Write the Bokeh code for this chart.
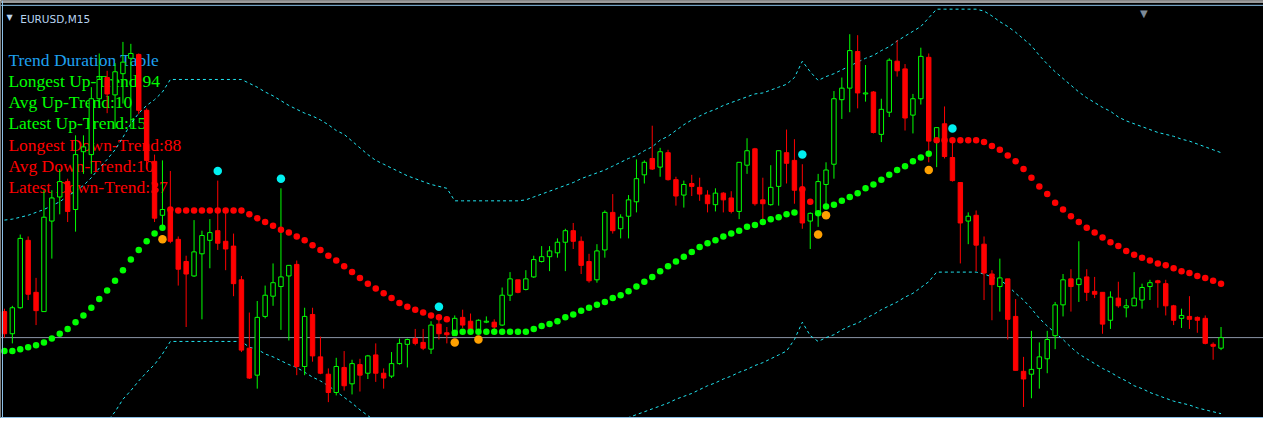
from bokeh.plotting import figure
from bokeh.models import ColumnDataSource, Range1d, Label, Span, BoxAnnotation
from bokeh.embed import file_html
from bokeh.resources import INLINE
import numpy as np

# EURUSD M15 — prices expressed in points above 1.09000 (1 point = 0.00001)
symbol = "EURUSD,M15"

open_pts = [677, 654, 681, 751, 697, 677, 771, 796, 812, 783,
            843, 840, 898, 920, 902, 924, 940, 944, 886, 833,
            777, 783, 752, 729, 714, 737, 751, 761, 750, 745,
            710, 639, 611, 672, 693, 703, 714, 726, 620, 674,
            630, 612, 593, 619, 602, 622, 613, 632, 613, 610,
            623, 643, 649, 645, 638, 664, 655, 652, 671, 667,
            658, 666, 666, 663, 694, 710, 700, 713, 729, 734,
            738, 749, 761, 750, 729, 710, 741, 780, 763, 776,
            791, 819, 836, 827, 842, 814, 798, 810, 806, 798,
            788, 800, 795, 781, 829, 846, 793, 788, 807, 842,
            834, 805, 771, 780, 809, 830, 897, 909, 947, 903,
            905, 861, 884, 937, 929, 881, 898, 941, 853, 872,
            837, 811, 771, 777, 747, 716, 703, 711, 672, 615,
            612, 618, 628, 652, 684, 711, 705, 713, 698, 697,
            668, 691, 681, 683, 689, 703, 709, 706, 683, 670,
            672, 671, 670, 643, 639]

high_pts = [680, 683, 757, 755, 712, 803, 803, 825, 815, 860,
            860, 910, 945, 927, 935, 957, 955, 945, 888, 840,
            834, 823, 755, 735, 772, 761, 773, 813, 780, 758,
            714, 676, 688, 704, 727, 805, 725, 730, 681, 681,
            651, 618, 629, 636, 627, 628, 632, 644, 618, 635,
            649, 649, 659, 659, 667, 669, 661, 673, 679, 675,
            669, 672, 669, 702, 718, 710, 720, 735, 745, 745,
            753, 763, 769, 755, 737, 747, 782, 799, 778, 798,
            835, 834, 870, 847, 845, 817, 813, 819, 816, 803,
            805, 801, 802, 832, 857, 847, 816, 829, 844, 866,
            856, 830, 780, 820, 832, 906, 920, 965, 964, 933,
            906, 898, 940, 959, 934, 903, 951, 945, 868, 890,
            853, 811, 780, 782, 755, 720, 732, 711, 690, 630,
            657, 645, 657, 687, 716, 721, 750, 721, 713, 697,
            698, 708, 690, 718, 706, 710, 710, 710, 684, 680,
            693, 672, 673, 645, 661]

low_pts = [650, 644, 680, 689, 663, 677, 732, 778, 770, 760,
           820, 820, 890, 883, 867, 893, 867, 882, 825, 770,
           762, 748, 704, 661, 713, 669, 722, 741, 720, 693,
           635, 607, 597, 670, 683, 658, 647, 611, 611, 625,
           612, 583, 590, 595, 591, 594, 607, 604, 597, 608,
           622, 619, 642, 637, 633, 648, 644, 652, 660, 657,
           657, 665, 657, 662, 688, 696, 699, 712, 728, 719,
           733, 719, 742, 716, 707, 707, 733, 758, 753, 753,
           780, 810, 824, 817, 813, 787, 785, 797, 792, 780,
           781, 780, 779, 773, 820, 787, 772, 787, 787, 810,
           789, 763, 742, 765, 786, 815, 877, 884, 888, 895,
           862, 853, 879, 921, 865, 862, 892, 832, 827, 836,
           812, 727, 747, 719, 689, 668, 677, 648, 616, 578,
           587, 597, 613, 638, 672, 677, 687, 688, 691, 654,
           659, 681, 671, 683, 680, 689, 681, 673, 663, 660,
           659, 655, 643, 627, 637]

close_pts = [654, 681, 753, 695, 678, 775, 795, 812, 781, 840,
             848, 898, 918, 903, 926, 936, 945, 886, 834, 774,
             783, 750, 721, 716, 739, 756, 759, 748, 742, 706,
             637, 608, 671, 694, 707, 713, 725, 620, 672, 631,
             613, 593, 620, 600, 623, 611, 631, 613, 608, 623,
             644, 648, 644, 639, 663, 654, 653, 670, 663, 657,
             668, 667, 661, 694, 711, 697, 711, 731, 734, 740,
             749, 761, 750, 725, 709, 740, 780, 761, 775, 793,
             815, 832, 825, 843, 814, 797, 809, 807, 799, 789,
             800, 793, 781, 832, 844, 789, 789, 806, 844, 831,
             803, 769, 779, 812, 824, 898, 909, 948, 904, 904,
             863, 887, 938, 927, 878, 898, 942, 854, 868, 838,
             813, 769, 776, 746, 717, 705, 712, 669, 616, 607,
             617, 630, 648, 684, 710, 703, 711, 697, 695, 664,
             692, 683, 683, 691, 702, 707, 707, 683, 668, 673,
             669, 668, 644, 641, 650]

# Trend line (dots): up-trend segments and down-trend segments
up_trend = ([636, 636, 638, 640, 642, 645, 649, 654, 659, 666,
             673, 681, 690, 699, 709, 720, 731, 741, 750, 758, 764]
            + [None] * 36
            + [655, 656, 656, 656, 656, 656, 656, 656, 656, 656,
               659, 662, 664, 667, 671, 674, 678, 681, 684, 687,
               691, 694, 698, 703, 708, 713, 719, 724, 729, 734,
               739, 744, 748, 751, 755, 758, 761, 765, 767, 770,
               773, 775, 778, 780]
            + [None] * 2
            + [779, 786, 788, 792, 796, 800, 805, 809, 814, 819,
               824, 828, 833, 837, 841]
            + [None] * 37)

down_trend = ([None] * 21
              + [783, 782, 782, 782, 782, 782, 782, 782, 782, 782,
                 778, 774, 770, 766, 762, 759, 755, 751, 746, 741,
                 735, 730, 724, 718, 712, 706, 701, 696, 691, 686,
                 682, 679, 676, 673, 671, 669]
              + [None] * 44
              + [804, 791]
              + [None] * 15
              + [855, 855, 855, 855, 855, 855, 853, 849, 845, 839,
                 833, 825, 816, 807, 799, 790, 783, 776, 770, 764,
                 759, 754, 749, 745, 740, 736, 733, 730, 727, 725,
                 722, 719, 717, 714, 712, 709, 706])

# Signal dots
sig_top_idx = [27, 35, 55, 101, 120]
sig_top_val = [823, 815, 682, 840, 867]
sig_bot_idx = [20, 57, 60, 103, 104, 117]
sig_bot_val = [752, 645, 648, 757, 777, 824]

# Channel (dotted envelope)
upper_band = [772, 773, 775, 777, 780, 783, 787, 791, 797, 802,
              808, 816, 826, 835, 845, 858, 872, 883, 891, 897,
              905, 918, 918, 918, 918, 918, 918, 918, 918, 918,
              918, 914, 910, 905, 901, 896, 891, 887, 883, 880,
              876, 871, 865, 861, 854, 847, 840, 834, 830, 826,
              822, 818, 815, 812, 809, 807, 805, 792, 792, 792,
              792, 792, 792, 792, 792, 792, 793, 796, 799, 802,
              805, 808, 811, 815, 818, 821, 824, 828, 832, 836,
              839, 844, 848, 855, 859, 865, 871, 876, 880, 884,
              887, 891, 894, 897, 900, 903, 904, 907, 910, 913,
              920, 937, 926, 917, 921, 924, 928, 932, 936, 940,
              943, 948, 952, 958, 963, 968, 973, 982, 991, 991,
              991, 991, 991, 991, 989, 984, 978, 973, 967, 960,
              953, 943, 934, 926, 919, 912, 905, 899, 894, 889,
              885, 879, 875, 872, 869, 866, 863, 861, 859, 856,
              854, 851, 848, 845, 842]

lower_band = [500, 501, 503, 505, 508, 511, 515, 519, 525, 530,
              536, 544, 554, 563, 573, 586, 595, 605, 614, 622,
              633, 646, 646, 646, 646, 646, 646, 646, 646, 646,
              646, 640, 638, 633, 630, 626, 622, 619, 614, 609,
              605, 600, 594, 588, 582, 575, 569, 563, 558, 554,
              550, 547, 544, 542, 540, 538, 536, 528, 528, 528,
              528, 528, 528, 528, 528, 528, 528, 531, 534, 537,
              540, 543, 546, 549, 552, 555, 558, 561, 564, 567,
              570, 573, 576, 579, 582, 586, 589, 592, 596, 600,
              603, 607, 610, 614, 617, 621, 624, 628, 632, 636,
              648, 666, 652, 646, 650, 653, 658, 662, 665, 670,
              674, 679, 683, 687, 692, 696, 702, 708, 718, 718,
              718, 718, 718, 718, 716, 713, 710, 704, 696, 689,
              680, 670, 662, 655, 648, 640, 633, 628, 623, 618,
              614, 609, 605, 600, 597, 593, 590, 587, 584, 582,
              580, 577, 575, 573, 571]

table_title = "Trend Duration Table"
longest_up, avg_up, latest_up = 94, 10, 15
longest_down, avg_down, latest_down = 88, 10, 37

# ---------------------------------------------------------------------------
W, H = 1263, 418
REF_W, REF_H = 1279, 434


def sx(px):
    return px * W / REF_W


def sy(py):
    return (REF_H - py) * H / REF_H


n = len(open_pts)
idx = np.arange(n)
o = np.array(open_pts, dtype=float)
hi = np.array(high_pts, dtype=float)
lo = np.array(low_pts, dtype=float)
c = np.array(close_pts, dtype=float)
bull = c >= o

p = figure(width=W, height=H, output_backend="svg", toolbar_location=None,
           x_range=Range1d(-0.5, 159.375), y_range=Range1d(566, 1000),
           x_axis_location=None, y_axis_location=None,
           background_fill_color="black", border_fill_color="black",
           min_border=0)
p.grid.visible = False
p.outline_line_color = None

LIME = "#00ff00"
RED = "#ff0000"
CYAN_LINE = "#20e4f0"

# frame decoration
p.add_layout(BoxAnnotation(bottom=997.3, top=1000, fill_color="#9a9a9a",
                           fill_alpha=1, line_alpha=0))
p.add_layout(Span(location=995, dimension="width", line_color="#8ec4ec", line_width=1))
p.add_layout(Span(location=-0.25, dimension="height", line_color="#8ec4ec", line_width=1))
p.add_layout(Span(location=567, dimension="width", line_color="#8ec4ec", line_width=1))

# text table (drawn underneath the candles, as in the terminal)
rows = [
    (table_title, "#1ea0f0"),
    (f"Longest Up-Trend:{longest_up}", LIME),
    (f"Avg Up-Trend:{avg_up}", LIME),
    (f"Latest Up-Trend:{latest_up}", LIME),
    (f"Longest Down-Trend:{longest_down}", RED),
    (f"Avg Down-Trend:{avg_down}", RED),
    (f"Latest Down-Trend:{latest_down}", RED),
]
for k, (txt, col) in enumerate(rows):
    p.add_layout(Label(x=sx(8), y=sy(62 + 21.9 * k), x_units="screen", y_units="screen",
                       text=txt, text_color=col, text_font="Liberation Serif",
                       text_font_size="17.5px", text_baseline="alphabetic",
                       level="underlay"))

# header
p.add_layout(Label(x=sx(6), y=sy(18), x_units="screen", y_units="screen",
                   text="\u25bc", text_color="#b8d4f0", text_font="DejaVu Sans",
                   text_font_size="8px", text_baseline="alphabetic"))
p.add_layout(Label(x=sx(20), y=sy(19.5), x_units="screen", y_units="screen",
                   text=symbol, text_color="#b8d4f0", text_font="DejaVu Sans",
                   text_font_size="10.5px", text_baseline="alphabetic"))
p.add_layout(Label(x=sx(1154), y=sy(13), x_units="screen", y_units="screen",
                   text="\u25bc", text_color="#7d8a98", text_font="DejaVu Sans",
                   text_font_size="10px", text_baseline="alphabetic"))

# channel
p.line(idx, upper_band, line_color=CYAN_LINE, line_width=1, line_dash="3 3")
p.line(idx, lower_band, line_color=CYAN_LINE, line_width=1, line_dash="3 3")

# bid line
p.add_layout(Span(location=close_pts[-1], dimension="width", line_color="#8a94a6",
                  line_width=1, level="underlay"))

# candles
src_up = ColumnDataSource(dict(x=idx[bull], o=o[bull], h=hi[bull], l=lo[bull], c=c[bull]))
src_dn = ColumnDataSource(dict(x=idx[~bull], o=o[~bull], h=hi[~bull], l=lo[~bull], c=c[~bull]))
p.segment(x0="x", y0="h", x1="x", y1="l", source=src_up, line_color=LIME, line_width=1)
p.segment(x0="x", y0="h", x1="x", y1="l", source=src_dn, line_color=RED, line_width=1)
p.vbar(x="x", width=0.56, top="c", bottom="o", source=src_up,
       fill_color="black", line_color=LIME, line_width=1)
p.vbar(x="x", width=0.56, top="o", bottom="c", source=src_dn,
       fill_color=RED, line_color=RED, line_width=1)

# trend dots
upv = np.array([np.nan if v is None else v for v in up_trend], dtype=float)
dnv = np.array([np.nan if v is None else v for v in down_trend], dtype=float)
p.scatter(idx, upv, size=6.5, fill_color=LIME, line_color=None)
p.scatter(idx, dnv, size=6.5, fill_color=RED, line_color=None)

# signals
p.scatter(sig_top_idx, sig_top_val, size=8.5, fill_color="#00f0f0", line_color=None)
p.scatter(sig_bot_idx, sig_bot_val, size=8.5, fill_color="#ffa000", line_color=None)

open("out.html", "w").write(file_html(p, INLINE))
